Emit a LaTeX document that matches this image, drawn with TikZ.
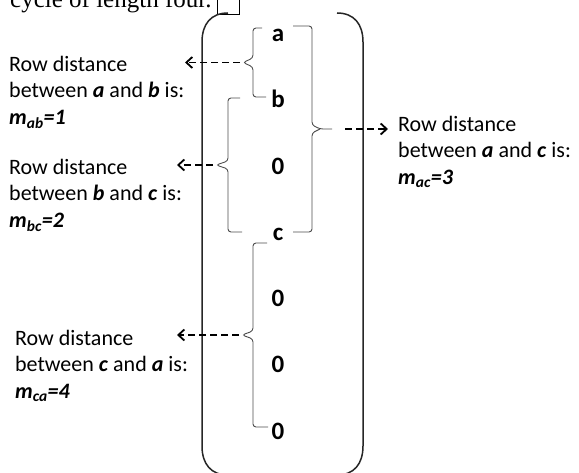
\documentclass[tikz,border=0pt]{standalone}
\usepackage{fontspec}
\setmainfont{Carlito}
\newfontfamily\capfont{Liberation Serif}
\usetikzlibrary{arrows.meta}

\begin{document}
\begin{tikzpicture}[x=1pt,y=-1pt,>={Straight Barb[length=6pt,width=11pt,line width=1.8pt]},
  entry/.style={font=\fontsize{25}{28}\selectfont\bfseries,inner sep=0pt,anchor=base},
  desc/.style={font=\fontsize{22}{26.5}\selectfont,align=left,inner sep=0pt,anchor=north west},
  paren/.style={line width=1.5pt,black!85},
  brace line/.style={line width=0.9pt,black!70,rounded corners=3pt},
  dash arrow/.style={->,line width=1.6pt,dash pattern=on 7pt off 4pt,shorten <=3pt}]

  \useasboundingbox (0,0) rectangle (579,473);
  \clip (0,0) rectangle (579,473);

  % caption line, cut at the top
  \node[anchor=base west,inner sep=0pt,font=\capfont\fontsize{25}{30}\selectfont] (cap) at (10,8) {cycle of length four.};
  \node[draw,line width=0.8pt,minimum width=22pt,minimum height=22pt,inner sep=0pt,anchor=south west] (box) at (217,15) {};

  % column entries
  \node[entry] (a)  at (278,42)  {a};
  \node[entry] (b)  at (278,108) {b};
  \node[entry] (z1) at (278,175) {0};
  \node[entry] (c)  at (278,241) {c};
  \node[entry] (z2) at (278,307) {0};
  \node[entry] (z3) at (278,373) {0};
  \node[entry] (z4) at (278,439) {0};

  % big parentheses
  \draw[paren] (228,13) .. controls (211,13) and (202,24) .. (202,42) -- (202,446)
    .. controls (202,464) and (211,475) .. (228,475);
  \draw[paren] (337,13) .. controls (354,13) and (363,24) .. (363,42) -- (363,446)
    .. controls (363,464) and (354,475) .. (337,475);

  % braces
  \draw[brace line] (262,28) -- (253,28) -- (253,58) -- (243,62.5) coordinate (tipab)
    -- (253,67) -- (253,97) -- (266,97);
  \draw[brace line] (240,98) -- (228,98) -- (228,161) -- (216,165) coordinate (tipbc)
    -- (228,169) -- (228,232) -- (242,232);
  \draw[brace line] (293,26) -- (312,26) -- (312,125) -- (320,129) -- (332,129) coordinate (tipac);
  \draw[brace line] (293,232) -- (312,232) -- (312,133) -- (320,129);
  \draw[brace line] (267,243) -- (253,243) -- (253,331) -- (242,335) coordinate (tipca)
    -- (253,339) -- (253,427) -- (268,427);

  % labels
  \node[desc] (lab1) at (9,56) {Row distance\\between \textbf{\textit{a}} and \textbf{\textit{b}} is:\\\textbf{\textit{m\textsubscript{ab}=1}}};
  \node[desc] (lab2) at (9,159) {Row distance\\between \textbf{\textit{b}} and \textbf{\textit{c}} is:\\\textbf{\textit{m\textsubscript{bc}=2}}};
  \node[desc] (lab3) at (15,330) {Row distance\\between \textbf{\textit{c}} and \textbf{\textit{a}} is:\\\textbf{\textit{m\textsubscript{ca}=4}}};
  \node[desc] (lab4) at (398,116) {Row distance\\between \textbf{\textit{a}} and \textbf{\textit{c}} is:\\\textbf{\textit{m\textsubscript{ac}=3}}};

  % dashed arrows
  \coordinate (hab) at (185,62.5);
  \coordinate (hbc) at (177,165);
  \coordinate (hca) at (177,335);
  \coordinate (hac) at (388,129);
  \draw[dash arrow] (tipab) -- (hab);
  \draw[dash arrow] (tipbc) -- (hbc);
  \draw[dash arrow] (tipca) -- (hca);
  \draw[dash arrow,shorten <=13pt] (tipac) -- (hac);
\end{tikzpicture}
\end{document}
